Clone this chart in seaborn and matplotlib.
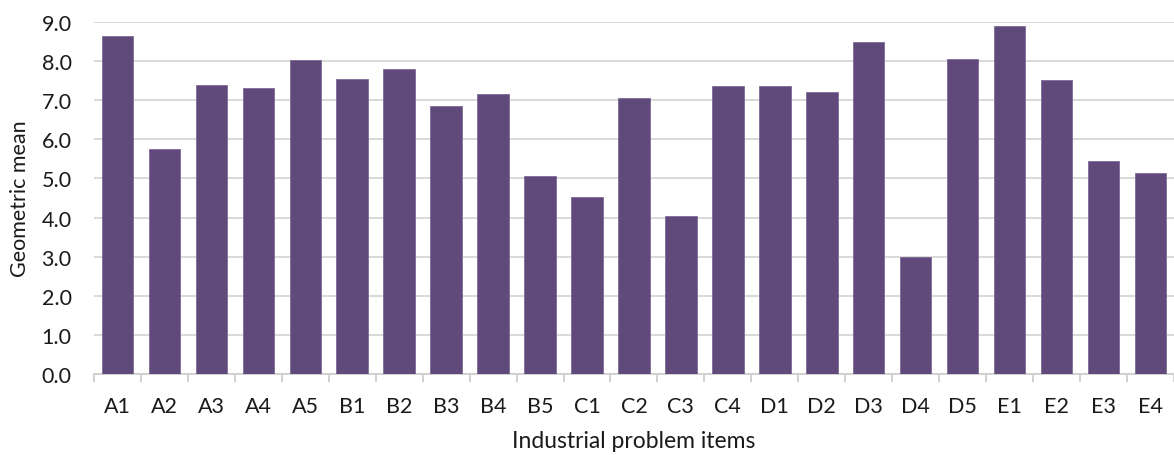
import matplotlib
matplotlib.use("Agg")
import matplotlib.pyplot as plt
import seaborn as sns
import pandas as pd
from matplotlib.ticker import MultipleLocator, FixedLocator

items = ["A1", "A2", "A3", "A4", "A5", "B1", "B2", "B3", "B4", "B5",
         "C1", "C2", "C3", "C4", "D1", "D2", "D3", "D4", "D5",
         "E1", "E2", "E3", "E4"]
geo_mean = [8.63, 5.74, 7.40, 7.32, 8.04, 7.53, 7.79, 6.85, 7.17, 5.05,
            4.52, 7.05, 4.04, 7.36, 7.36, 7.21, 8.48, 3.00, 8.05,
            8.89, 7.52, 5.44, 5.13]

df = pd.DataFrame({"item": items, "value": geo_mean})

sns.set_theme(style="white")
plt.rcParams["font.family"] = ["Lato", "DejaVu Sans"]

fig = plt.figure(figsize=(11.74, 4.56), dpi=100)
ax = fig.add_axes([0.080, 0.1776, 0.920, 0.772])

sns.barplot(data=df, x="item", y="value", color="#604a7b", saturation=1,
            width=0.67, edgecolor="#7d6a96", linewidth=0.6, ax=ax, zorder=3)

ax.set_ylim(0, 9)
ax.set_xlim(-0.5, len(items) - 0.5)
ax.yaxis.set_major_locator(MultipleLocator(1))
ax.yaxis.set_major_formatter(matplotlib.ticker.FormatStrFormatter("%.1f"))
ax.grid(axis="y", color="#d9d9d9", linewidth=1.4, zorder=0)
ax.set_axisbelow(True)

for s in ["top", "right", "left"]:
    ax.spines[s].set_visible(False)
ax.spines["bottom"].set_color("#d0d0d0")
ax.spines["bottom"].set_linewidth(1.4)

ax.xaxis.set_minor_locator(FixedLocator([i - 0.5 for i in range(len(items) + 1)]))
ax.tick_params(axis="x", which="minor", length=6, width=1.4, color="#d0d0d0",
               direction="out", bottom=True)
ax.tick_params(axis="x", which="major", length=0, pad=16, labelsize=15.5,
               labelcolor="#1a1a1a")
ax.tick_params(axis="y", length=0, pad=16, labelsize=15.5, labelcolor="#1a1a1a")

ax.set_xlabel("Industrial problem items", fontsize=16.5, color="#1a1a1a", labelpad=10)
ax.set_ylabel("Geometric mean", fontsize=15.5, color="#1a1a1a", labelpad=8)

fig.savefig("out.png", dpi=100, facecolor="white")
